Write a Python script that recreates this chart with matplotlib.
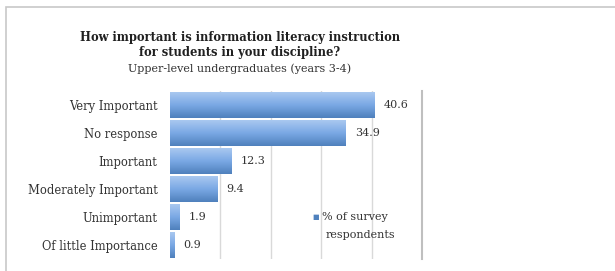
import numpy as np
import matplotlib.pyplot as plt
from matplotlib.colors import LinearSegmentedColormap
from matplotlib.patches import Rectangle

plt.rcParams['font.family'] = ['DejaVu Serif']

categories = ["Very Important", "No response", "Important",
              "Moderately Important", "Unimportant", "Of little Importance"]
values = [40.6, 34.9, 12.3, 9.4, 1.9, 0.9]
labels = ["40.6", "34.9", "12.3", "9.4", "1.9", "0.9"]
legend_label = ["% of survey", "respondents"]

fig = plt.figure(figsize=(6.15, 2.71), dpi=100)
fig.patches.append(Rectangle((6 / 615, -0.1), 1.2, 1 - 7 / 271 + 0.1,
                             transform=fig.transFigure, fill=False,
                             edgecolor='#c8c8c8', linewidth=1.2))

ax = fig.add_axes([170 / 615, 1 - 259 / 271, (422 - 170) / 615, (259 - 91) / 271])
y = np.arange(len(categories))
bars = ax.barh(y, values, height=0.9, color='#6a9bd8', zorder=2)

cmap = LinearSegmentedColormap.from_list('blu', ['#a9c8f0', '#7aa8e4', '#4f81bd'])
grad = np.linspace(0, 1, 64).reshape(-1, 1)
for b in bars:
    x0, y0 = b.get_x(), b.get_y()
    w, h = b.get_width(), b.get_height()
    im = ax.imshow(grad, cmap=cmap, aspect='auto', extent=(x0, x0 + w, y0 + h, y0),
                   origin='upper', zorder=3)
    im.set_clip_path(b)
    b.set_facecolor('none')

for yi, v, t in zip(y, values, labels):
    ax.text(v + 1.8, yi, t, va='center', ha='left', fontsize=8, color='#333333')

ax.set_xlim(0, 50)
ax.set_ylim(len(categories) - 0.5, -0.5)
ax.set_yticks(y)
ax.set_yticklabels(categories, fontsize=8.3, color='#333333')
ax.tick_params(axis='y', length=0, pad=9)
ax.set_xticks([10, 20, 30, 40])
ax.tick_params(axis='x', length=0, labelbottom=False)
ax.grid(axis='x', color='#d9d9d9', linewidth=1, zorder=0)
for s in ['top', 'bottom', 'left']:
    ax.spines[s].set_visible(False)
ax.spines['right'].set_color('#bfbfbf')
ax.spines['right'].set_linewidth(1.5)
ax.set_facecolor('none')

fig.text(240 / 615, 1 - 37 / 271, "How important is information literacy instruction",
         ha='center', va='center', fontsize=8.3, fontweight='bold', color='#202020')
fig.text(240 / 615, 1 - 52 / 271, "for students in your discipline?",
         ha='center', va='center', fontsize=8.3, fontweight='bold', color='#202020')
fig.text(240 / 615, 1 - 69 / 271, "Upper-level undergraduates (years 3-4)",
         ha='center', va='center', fontsize=8, color='#333333')

fig.text(316 / 615, 1 - 217 / 271, "\u25a0", ha='center', va='center',
         fontsize=5, color='#4f81bd', family='DejaVu Sans')
fig.text(322 / 615, 1 - 217 / 271, legend_label[0], ha='left', va='center',
         fontsize=8, color='#333333')
fig.text(360 / 615, 1 - 235 / 271, legend_label[1], ha='center', va='center',
         fontsize=8, color='#333333')

fig.savefig('out.png', dpi=100, facecolor='white')
